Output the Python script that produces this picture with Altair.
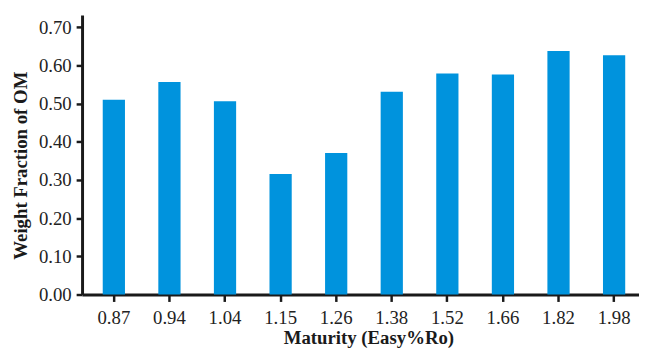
import altair as alt
import pandas as pd

maturity = ["0.87", "0.94", "1.04", "1.15", "1.26", "1.38", "1.52", "1.66", "1.82", "1.98"]
weight_fraction = [0.510, 0.557, 0.506, 0.316, 0.371, 0.531, 0.579, 0.576, 0.638, 0.627]
y_ticks = [0.0, 0.1, 0.2, 0.3, 0.4, 0.5, 0.6, 0.7]

df = pd.DataFrame({"Maturity": maturity, "Weight": weight_fraction})

FONT = "Liberation Serif"

chart = alt.Chart(df).mark_bar(color="#0093DD").encode(
    x=alt.X(
        "Maturity:N",
        sort=maturity,
        scale=alt.Scale(paddingInner=0.6, paddingOuter=0.31, align=0.6),
        axis=alt.Axis(
            title="Maturity (Easy%Ro)",
            labelAngle=0,
            labelFont=FONT,
            labelFontSize=19,
            labelColor="#222222",
            labelPadding=7,
            tickSize=7,
            tickWidth=2.5,
            tickColor="#1a1a1a",
            domainColor="#1a1a1a",
            domainWidth=3,
            titleFont=FONT,
            titleFontSize=19,
            titleFontWeight="bold",
            titleColor="#1a1a1a",
            titleX=290,
            titleY=50,
            titleBaseline="alphabetic",
            titleAnchor="middle",
            grid=False,
        ),
    ),
    y=alt.Y(
        "Weight:Q",
        scale=alt.Scale(domain=[0, 0.732], nice=False, zero=True),
        axis=alt.Axis(
            title="Weight Fraction of OM",
            values=y_ticks,
            format=".2f",
            labelFont=FONT,
            labelFontSize=19,
            labelColor="#222222",
            labelPadding=5,
            tickSize=6,
            tickWidth=2.5,
            tickColor="#1a1a1a",
            domainColor="#1a1a1a",
            domainWidth=3,
            titleFont=FONT,
            titleFontSize=19,
            titleFontWeight="bold",
            titleColor="#1a1a1a",
            titleAngle=-90,
            titleX=-56,
            titleY=152,
            titleBaseline="alphabetic",
            titleAlign="center",
            grid=False,
        ),
    ),
).properties(
    width=564,
    height=283,
    autosize=alt.AutoSizeParams(type="none"),
    padding={"left": 75, "top": 5, "right": 0, "bottom": 52},
).configure_view(stroke=None)

chart.save("out.html", embed_options={"renderer": "svg", "actions": False})
